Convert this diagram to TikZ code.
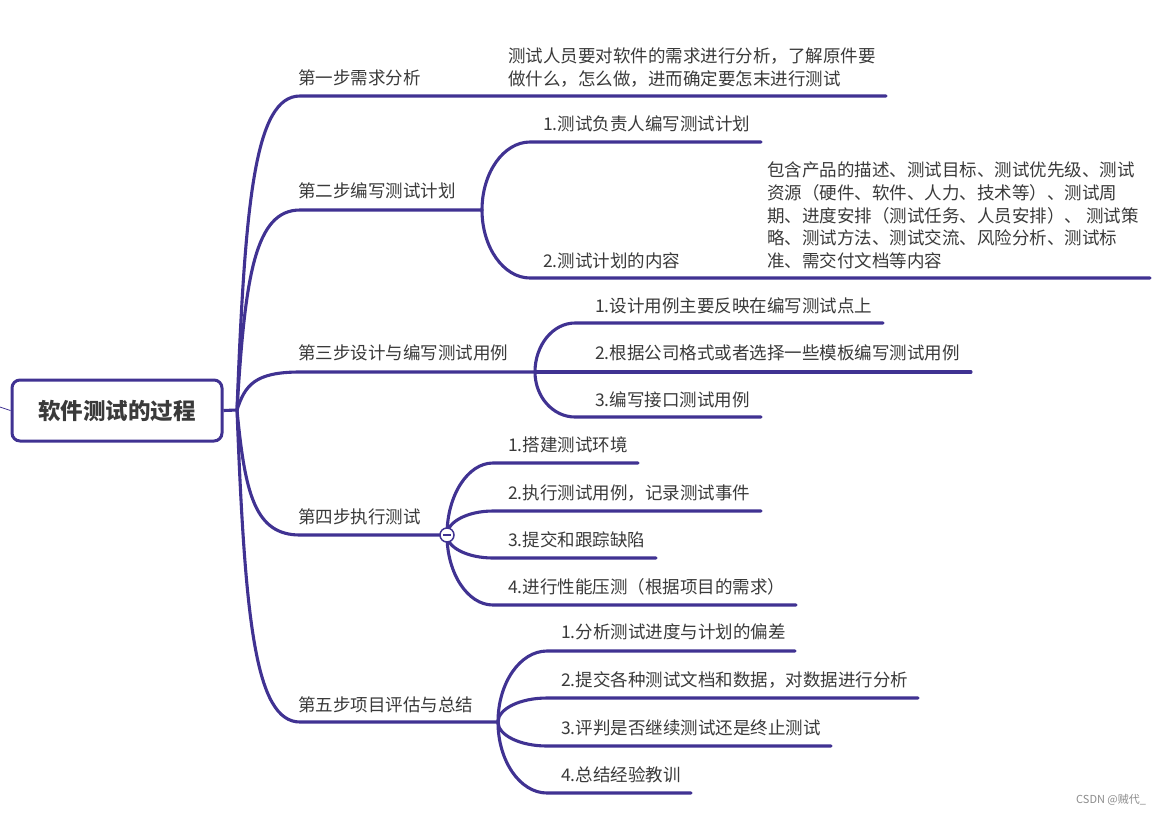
\documentclass[tikz,border=0pt]{standalone}
\usepackage{fontspec}
\setmainfont{Noto Sans CJK SC}
\definecolor{mmpurple}{RGB}{64,50,146}
\definecolor{txt}{RGB}{58,58,58}
\begin{document}
\begin{tikzpicture}[x=1pt,y=-1pt,
  br/.style={draw=mmpurple,line width=3.1pt,line cap=round},
  lbl/.style={anchor=west,inner sep=0pt,text=txt,font=\fontsize{17.5}{22.6}\selectfont},
  desc/.style={lbl,align=left},
  rootbox/.style={draw=mmpurple,line width=3pt,rounded corners=8pt,fill=white,
    minimum width=210pt,minimum height=61pt,inner sep=0pt,text=txt,
    font=\bfseries\fontsize{22.5}{27}\selectfont}]
\fill[white] (0,0) rectangle (1172,815);
\useasboundingbox (0,0) rectangle (1172,815);

% coordinates
\coordinate (offL) at (0,407);
\coordinate (trunk) at (237,410);
\coordinate (e1) at (886,96);
\coordinate (j2) at (482,210);
\coordinate (j3) at (535,372);
\coordinate (j4) at (447,535);
\coordinate (j5) at (498,722);
\coordinate (e21) at (761,142);
\coordinate (e22) at (1150,278);
\coordinate (e31) at (883,323);
\coordinate (e32) at (971,372);
\coordinate (e33) at (761,417);
\coordinate (e41) at (638,463);
\coordinate (e42) at (761,511);
\coordinate (e43) at (656,558);
\coordinate (e44) at (796,605);
\coordinate (e51) at (795,651);
\coordinate (e52) at (918,698);
\coordinate (e53) at (831,746);
\coordinate (e54) at (691,793);

% main branches
\draw[br] (trunk) .. controls (245,200) and (255,96) .. (300,96) -- (e1);
\draw[br] (trunk) .. controls (245,276) and (255,210) .. (300,210) -- (j2);
\draw[br] (trunk) .. controls (245,385) and (255,372) .. (300,372) -- (j3);
\draw[br] (trunk) .. controls (245,494) and (255,535) .. (300,535) -- (j4);
\draw[br] (trunk) .. controls (245,619) and (255,722) .. (300,722) -- (j5);

% sub branches 2
\draw[br] (j2) .. controls (482,172.6) and (503.6,142) .. (530,142) -- (e21);
\draw[br] (j2) .. controls (482,247.4) and (503.6,278) .. (530,278) -- (e22);
% sub branches 3
\draw[br] (j3) .. controls (535,345) and (553,323) .. (575,323) -- (e31);
\draw[br] (j3) -- (e32);
\draw[br] (j3) .. controls (535,396.75) and (553,417) .. (575,417) -- (e33);
% sub branches 4
\draw[br] (j4) .. controls (447,495.4) and (467.7,463) .. (493,463) -- (e41);
\draw[br] (j4) .. controls (447,521.8) and (467.7,511) .. (493,511) -- (e42);
\draw[br] (j4) .. controls (447,547.6) and (467.7,558) .. (493,558) -- (e43);
\draw[br] (j4) .. controls (447,573.5) and (467.7,605) .. (493,605) -- (e44);
% sub branches 5
\draw[br] (j5) .. controls (498,683) and (520,651) .. (547,651) -- (e51);
\draw[br] (j5) .. controls (498,708.8) and (520,698) .. (547,698) -- (e52);
\draw[br] (j5) .. controls (498,735.2) and (520,746) .. (547,746) -- (e53);
\draw[br] (j5) .. controls (498,761) and (520,793) .. (547,793) -- (e54);

% root
\node[rootbox] (root) at (117,410.5) {软件测试的过程};
\draw[br,line cap=butt] (root.east) -- (trunk);
\draw[mmpurple,line width=0.8pt] (offL) -- (root.west);

% collapse circle
\node[circle,draw=mmpurple,line width=1.5pt,fill=white,minimum size=14pt,inner sep=0pt] (c4) at (j4) {};
\draw[mmpurple,line width=1.5pt] ([xshift=-4pt]c4.center) -- ([xshift=4pt]c4.center);

% labels main
\node[lbl] (l1) at (298,78) {第一步需求分析};
\node[lbl] (l2) at (298,191) {第二步编写测试计划};
\node[lbl] (l3) at (298,353) {第三步设计与编写测试用例};
\node[lbl] (l4) at (298,517) {第四步执行测试};
\node[lbl] (l5) at (298,705) {第五步项目评估与总结};

\node[desc] (d1) at (508,67.5) {测试人员要对软件的需求进行分析，了解原件要\\做什么，怎么做，进而确定要怎末进行测试};

\node[lbl] (l21) at (543,124) {1.测试负责人编写测试计划};
\node[lbl] (l22) at (543,261) {2.测试计划的内容};
\node[desc] (d2) at (767,215.5) {包含产品的描述、测试目标、测试优先级、测试\\资源（硬件、软件、人力、技术等）、测试周\\期、进度安排（测试任务、人员安排）、 测试策\\略、测试方法、测试交流、风险分析、测试标\\准、需交付文档等内容};

\node[lbl] (l31) at (595,306) {1.设计用例主要反映在编写测试点上};
\node[lbl] (l32) at (595,353) {2.根据公司格式或者选择一些模板编写测试用例};
\node[lbl] (l33) at (595,400) {3.编写接口测试用例};

\node[lbl] (l41) at (508,445) {1.搭建测试环境};
\node[lbl] (l42) at (508,493) {2.执行测试用例，记录测试事件};
\node[lbl] (l43) at (508,540) {3.提交和跟踪缺陷};
\node[lbl] (l44) at (508,587) {4.进行性能压测（根据项目的需求）};

\node[lbl] (l51) at (561,632) {1.分析测试进度与计划的偏差};
\node[lbl] (l52) at (561,680) {2.提交各种测试文档和数据，对数据进行分析};
\node[lbl] (l53) at (561,728) {3.评判是否继续测试还是终止测试};
\node[lbl] (l54) at (561,775) {4.总结经验教训};

\node[anchor=west,inner sep=0pt,text=black!45,font=\fontsize{11}{13}\selectfont] (wm) at (1076,800) {CSDN @贼代\_};
\end{tikzpicture}
\end{document}
